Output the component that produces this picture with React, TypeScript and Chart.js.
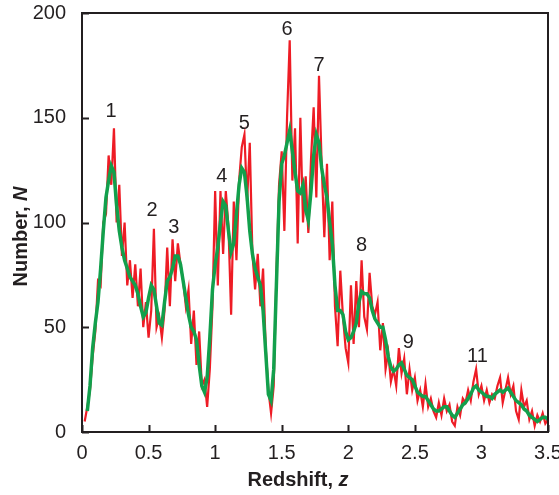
import React, { useEffect, useRef } from "react";
import { Chart, registerables } from "chart.js";

Chart.register(...registerables);

// Bin width of the redshift histogram
const Z_STEP = 0.02;
const rawStartZ = 0.02;
const smoothStartZ = 0.04;

// Raw counts per bin (red), from z = 0.02 to 3.50
const rawCounts = [
  5, 12, 20, 36, 48, 72, 70, 100, 104, 132,
  118, 145, 100, 118, 84, 100, 70, 82, 64, 80,
  60, 78, 50, 62, 45, 58, 97, 50, 55, 45,
  58, 88, 60, 92, 72, 90, 80, 72, 60, 68,
  42, 58, 32, 48, 22, 25, 12, 30, 60, 115,
  70, 115, 85, 115, 98, 56, 110, 82, 120, 136,
  142, 110, 138, 85, 68, 85, 60, 78, 40, 20,
  9, 22, 75, 118, 134, 96, 150, 187, 120, 145,
  90, 150, 100, 122, 95, 130, 155, 112, 170, 128,
  93, 128, 82, 110, 60, 41, 77, 55, 40, 33,
  70, 42, 72, 50, 82, 55, 49, 76, 60, 56,
  62, 39, 52, 30, 38, 24, 30, 22, 40, 28,
  35, 18, 30, 20, 26, 15, 20, 12, 23, 12,
  16, 10, 7, 14, 8, 16, 10, 13, 5, 3,
  12, 8, 16, 14, 20, 15, 24, 30, 18, 22,
  15, 20, 14, 18, 16, 22, 26, 14, 20, 26,
  18, 22, 10, 6, 20, 12, 15, 6, 10, 3,
  8, 5, 9, 4, 6,
];

// Smoothed counts (green), from z = 0.04 to 3.50
const smoothedCounts = [
  10, 22, 40, 52, 62, 78, 96, 112, 120, 127,
  124, 108, 96, 88, 82, 78, 74, 72, 70, 66,
  60, 55, 57, 64, 70, 68, 60, 52, 51, 62,
  72, 74, 78, 84, 84, 80, 72, 64, 56, 50,
  48, 44, 32, 22, 19, 26, 45, 68, 80, 88,
  100, 110, 108, 96, 86, 90, 104, 118, 126, 124,
  112, 96, 85, 78, 74, 70, 58, 38, 18, 15,
  30, 70, 110, 128, 132, 138, 144, 134, 124, 115,
  114, 118, 106, 101, 115, 132, 142, 138, 126, 118,
  112, 100, 90, 70, 58, 58, 56, 48, 44, 45,
  48, 52, 62, 67, 66, 66, 64, 58, 54, 52,
  50, 50, 44, 36, 31, 29, 30, 32, 33, 30,
  27, 26, 25, 22, 19, 18, 17, 17, 15, 13,
  11, 10, 10, 11, 12, 12, 10, 8, 7, 9,
  11, 13, 14, 16, 18, 21, 22, 20, 19, 18,
  17, 17, 16, 18, 19, 20, 19, 20, 21, 19,
  17, 15, 14, 13, 11, 10, 8, 7, 6, 5,
  6, 7, 7, 6,
];

const xTicks = [0, 0.5, 1, 1.5, 2, 2.5, 3, 3.5];
const xTickLabels = ["0", "0.5", "1", "1.5", "2", "2.5", "3", "3.5"];
const yTicks = [0, 50, 100, 150, 200];
const yTickLabels = ["0", "50", "100", "150", "200"];

const peakLabels = ["1", "2", "3", "4", "5", "6", "7", "8", "9", "11"];
const peakZ = [0.218, 0.526, 0.69, 1.05, 1.22, 1.54, 1.78, 2.1, 2.45, 2.97];
const peakN = [153, 105.5, 97.4, 122, 147.5, 192, 175, 89, 42.5, 36];

const INK = "#231f20";
const RED = "#ee1c25";
const GREEN = "#12a04c";
const FONT = "'Liberation Sans', Arial, Helvetica, sans-serif";

function toPoints(start: number, vals: number[]) {
  return vals.map((v, i) => ({ x: Math.round((start + i * Z_STEP) * 100) / 100, y: v }));
}

const overlayPlugin = {
  id: "overlay",
  afterDraw(chart: any) {
    const { ctx, chartArea: a, scales } = chart;
    const xs = scales.x;
    const ys = scales.y;
    ctx.save();
    // frame
    ctx.strokeStyle = INK;
    ctx.lineWidth = 2;
    ctx.strokeRect(a.left, a.top, a.right - a.left, a.bottom - a.top);
    // inward ticks
    ctx.beginPath();
    xTicks.forEach((v) => {
      const p = Math.round(xs.getPixelForValue(v)) + 0.5;
      ctx.moveTo(p, a.bottom);
      ctx.lineTo(p, a.bottom - 7);
    });
    yTicks.forEach((v) => {
      const p = Math.round(ys.getPixelForValue(v)) + 0.5;
      ctx.moveTo(a.left, p);
      ctx.lineTo(a.left + 7, p);
    });
    ctx.stroke();
    // peak labels
    ctx.fillStyle = INK;
    ctx.font = `20px ${FONT}`;
    ctx.textAlign = "center";
    ctx.textBaseline = "middle";
    peakLabels.forEach((t, i) => {
      ctx.fillText(t, xs.getPixelForValue(peakZ[i]), ys.getPixelForValue(peakN[i]));
    });
    // x title: "Redshift, z"
    const boldFont = `bold 20px ${FONT}`;
    const italicFont = `italic bold 20px ${FONT}`;
    ctx.textAlign = "left";
    ctx.font = boldFont;
    const xa = "Redshift, ";
    const wa = ctx.measureText(xa).width;
    ctx.font = italicFont;
    const wb = ctx.measureText("z").width;
    const cx = (a.left + a.right) / 2 - 17;
    let sx = cx - (wa + wb) / 2;
    const ty = 480;
    ctx.font = boldFont;
    ctx.fillText(xa, sx, ty);
    ctx.font = italicFont;
    ctx.fillText("z", sx + wa, ty);
    // y title: "Number, N"
    ctx.save();
    ctx.translate(21, (a.top + a.bottom) / 2 + 14);
    ctx.rotate(-Math.PI / 2);
    ctx.font = boldFont;
    const ya = "Number, ";
    const wya = ctx.measureText(ya).width;
    ctx.font = italicFont;
    const wyb = ctx.measureText("N").width;
    sx = -(wya + wyb) / 2;
    ctx.font = boldFont;
    ctx.fillText(ya, sx, 0);
    ctx.font = italicFont;
    ctx.fillText("N", sx + wya, 0);
    ctx.restore();
    ctx.restore();
  },
};

export default function App() {
  const canvasRef = useRef<HTMLCanvasElement | null>(null);

  useEffect(() => {
    const canvas = canvasRef.current;
    if (!canvas) return;
    const chart = new Chart(canvas, {
      type: "line",
      data: {
        datasets: [
          {
            label: "Smoothed",
            data: toPoints(smoothStartZ, smoothedCounts),
            borderColor: GREEN,
            borderWidth: 3.5,
            pointRadius: 0,
            tension: 0,
            fill: false,
          },
          {
            label: "Raw",
            data: toPoints(rawStartZ, rawCounts),
            borderColor: RED,
            borderWidth: 2.2,
            pointRadius: 0,
            tension: 0,
            fill: false,
          },
        ],
      },
      options: {
        animation: false,
        responsive: true,
        maintainAspectRatio: false,
        layout: { padding: { left: 0, top: 13, right: 11, bottom: 0 }, autoPadding: false },
        plugins: { legend: { display: false }, tooltip: { enabled: false } },
        scales: {
          x: {
            type: "linear",
            min: 0,
            max: 3.5,
            grid: { display: false, drawTicks: false },
            border: { display: false },
            afterBuildTicks: (s: any) => {
              s.ticks = xTicks.map((v) => ({ value: v }));
            },
            afterFit: (s: any) => {
              s.height = 63;
              s.paddingLeft = 0;
              s.paddingRight = 0;
            },
            ticks: {
              autoSkip: false,
              maxRotation: 0,
              padding: 9,
              color: INK,
              font: { family: FONT, size: 20 },
              callback: (v: any) => xTickLabels[xTicks.indexOf(Number(v))] ?? "",
            },
          },
          y: {
            type: "linear",
            min: 0,
            max: 200,
            grid: { display: false, drawTicks: false },
            border: { display: false },
            afterBuildTicks: (s: any) => {
              s.ticks = yTicks.map((v) => ({ value: v }));
            },
            afterFit: (s: any) => {
              s.width = 82;
              s.paddingTop = 0;
              s.paddingBottom = 0;
            },
            ticks: {
              padding: 16,
              color: INK,
              font: { family: FONT, size: 20 },
              callback: (v: any) => yTickLabels[yTicks.indexOf(Number(v))] ?? "",
            },
          },
        },
      },
      plugins: [overlayPlugin],
    });
    return () => chart.destroy();
  }, []);

  return (
    <div style={{ position: "fixed", left: 0, top: 0, width: 559, height: 495, background: "#fff" }}>
      <canvas ref={canvasRef} />
    </div>
  );
}
